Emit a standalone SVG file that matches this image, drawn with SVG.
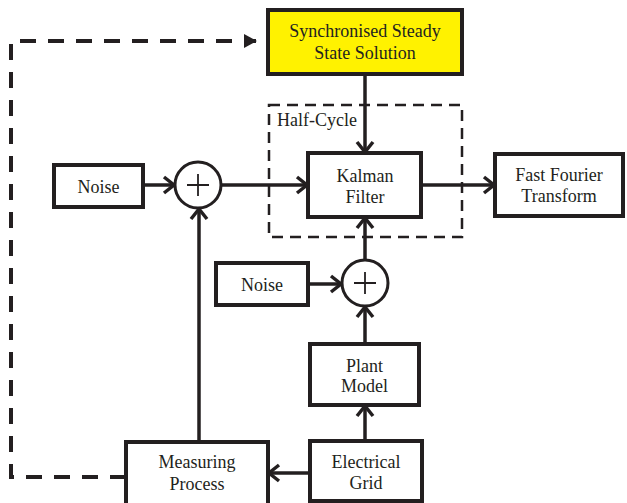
<svg xmlns="http://www.w3.org/2000/svg" width="627" height="503" viewBox="0 0 627 503">
<defs>
<style>
.box{fill:#fff;stroke:#231f20;stroke-width:4}
.sum{fill:#fff;stroke:#231f20;stroke-width:3}
text{font-family:'Liberation Serif','Times New Roman',serif;font-size:18px;fill:#231f20;text-anchor:middle}
.c{fill:none;stroke:#231f20;stroke-width:3.5}
.d{fill:none;stroke:#231f20;stroke-width:4;stroke-dasharray:16 12}
.hc{fill:none;stroke:#231f20;stroke-width:2.5;stroke-dasharray:11 7}
</style>
<marker id="arr" markerWidth="16" markerHeight="20" refX="13" refY="9" orient="auto" markerUnits="userSpaceOnUse" overflow="visible">
<path d="M3,1 L13,9 L3,17" fill="none" stroke="#231f20" stroke-width="3.5"/>
</marker>
<marker id="tri" markerWidth="14" markerHeight="16" refX="12" refY="7" orient="auto" markerUnits="userSpaceOnUse" overflow="visible">
<path d="M0,0 L13,7 L0,14 z" fill="#231f20"/>
</marker>
</defs>
<rect width="627" height="503" fill="#fff"/>

<g id="halfcycle">
<rect class="hc" x="269" y="105" width="193" height="132"/>
<text x="277" y="126" style="text-anchor:start">Half-Cycle</text>
</g>

<g id="connectors">
<line class="c" x1="143" y1="185" x2="174" y2="185" marker-end="url(#arr)"/>
<line class="c" x1="221" y1="185" x2="307" y2="185" marker-end="url(#arr)"/>
<line class="c" x1="365" y1="74" x2="365" y2="152" marker-end="url(#arr)"/>
<line class="c" x1="421" y1="185" x2="494" y2="185" marker-end="url(#arr)"/>
<line class="c" x1="365" y1="260" x2="365" y2="218" marker-end="url(#arr)"/>
<line class="c" x1="308" y1="284" x2="341" y2="284" marker-end="url(#arr)"/>
<line class="c" x1="365" y1="344" x2="365" y2="307" marker-end="url(#arr)"/>
<line class="c" x1="365" y1="441" x2="365" y2="406" marker-end="url(#arr)"/>
<line class="c" x1="310" y1="473" x2="269" y2="473" marker-end="url(#arr)"/>
<line class="c" x1="199" y1="442" x2="199" y2="209" marker-end="url(#arr)"/>
<path class="d" d="M126,477 H11 V41 H256"/>
<line x1="250" y1="41" x2="256" y2="41" stroke="#231f20" stroke-width="4" marker-end="url(#tri)"/>
</g>

<g id="sync">
<rect x="268" y="10" width="194" height="64" fill="#fff200" stroke="#231f20" stroke-width="4"/>
<text x="365" y="37">Synchronised Steady</text>
<text x="365" y="59">State Solution</text>
</g>

<g id="kalman">
<rect class="box" x="308" y="153" width="113" height="64"/>
<text x="365" y="182">Kalman</text>
<text x="365" y="203">Filter</text>
</g>

<g id="fft">
<rect class="box" x="495" y="154" width="128" height="62"/>
<text x="559" y="181">Fast Fourier</text>
<text x="559" y="202">Transform</text>
</g>

<g id="noise1">
<rect class="box" x="54" y="165" width="89" height="42"/>
<text x="98.5" y="193">Noise</text>
</g>

<g id="sum1">
<circle class="sum" cx="198" cy="185" r="23"/>
<path d="M187,185 H209 M198,174 V196" stroke="#231f20" stroke-width="1.8"/>
</g>

<g id="noise2">
<rect class="box" x="216" y="263" width="92" height="42"/>
<text x="262" y="291">Noise</text>
</g>

<g id="sum2">
<circle class="sum" cx="365" cy="283" r="23"/>
<path d="M354,283 H376 M365,272 V294" stroke="#231f20" stroke-width="1.8"/>
</g>

<g id="plant">
<rect class="box" x="310" y="344" width="109" height="61"/>
<text x="364.5" y="372">Plant</text>
<text x="364.5" y="392">Model</text>
</g>

<g id="measuring">
<rect class="box" x="126" y="442" width="142" height="70"/>
<text x="197" y="468">Measuring</text>
<text x="197" y="490">Process</text>
</g>

<g id="grid">
<rect class="box" x="310" y="441" width="112" height="60"/>
<text x="366" y="468">Electrical</text>
<text x="366" y="489">Grid</text>
</g>
</svg>
